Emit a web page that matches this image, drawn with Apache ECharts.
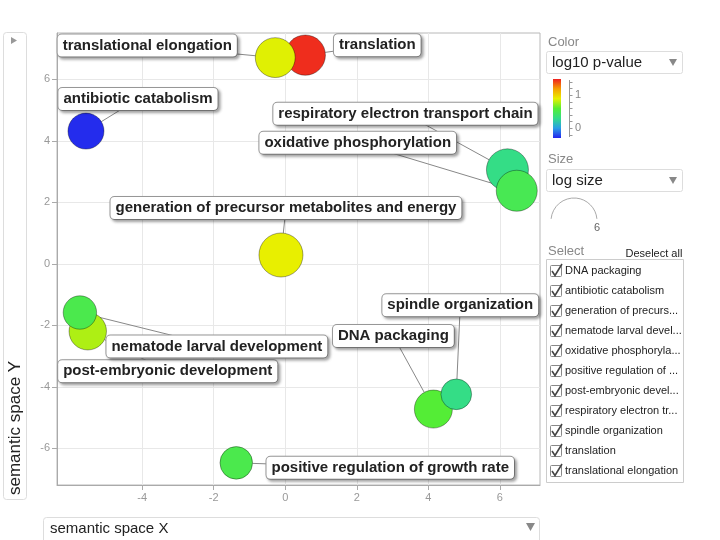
<!DOCTYPE html>
<html><head><meta charset="utf-8">
<script src="https://cdn.jsdelivr.net/npm/echarts@6/dist/echarts.min.js"></script>
<style>html,body{margin:0;padding:0;background:#fff}#c{width:720px;height:540px}</style>
</head><body><div id="c"></div>
<script>
// ---- data ----
const termNames = ['DNA packaging','antibiotic catabolism','generation of precursor metabolites and energy','nematode larval development','oxidative phosphorylation','positive regulation of growth rate','post-embryonic development','respiratory electron transport chain','spindle organization','translation','translational elongation'];
const semanticX = [4.14, -5.57, -0.12, -5.74, 6.47, -1.37, -5.52, 6.21, 4.78, 0.56, -0.28];
const semanticY = [-4.72, 4.32, 0.29, -1.58, 2.38, -6.47, -2.19, 3.06, -4.24, 6.79, 6.71];
const log10PValue = [0.58, -0.28, 0.89, 0.5, 0.48, 0.5, 0.77, 0.3, 0.3, 1.45, 0.87];
const logSize = [4.96, 4.7, 5.74, 4.36, 5.35, 4.25, 4.88, 5.48, 4.0, 5.25, 5.2];
const selectLabels = ['DNA packaging','antibiotic catabolism','generation of precurs...','nematode larval devel...','oxidative phosphoryla...','positive regulation of ...','post-embryonic devel...','respiratory electron tr...','spindle organization','translation','translational elongation'];
const xTicks = [-4, -2, 0, 2, 4, 6];
const yTicks = [-6, -4, -2, 0, 2, 4, 6];
const colorTicks = [1, 0];
const colorMinorTicks = [1.4, 1.2, 1.0, 0.8, 0.6, 0.4, 0.2, 0, -0.2];
const sizeLegendValue = 6;

// ---- style / layout ----
const FONT = '"Liberation Sans", Arial, Helvetica, sans-serif';
const colorRange = ['#2424ee', '#2a9ee6', '#33dd88', '#55ee33', '#e8f000', '#f5a000', '#ee2020'];
const cMin = -0.3, cMax = 1.48;
const pxPerLogSize = 23 / 6; // radius px per log size unit
const labelOffsets = {
  'DNA packaging': [-40, -73],
  'antibiotic catabolism': [52, -32],
  'generation of precursor metabolites and energy': [5, -47],
  'nematode larval development': [137, 34],
  'oxidative phosphorylation': [-159, -48],
  'positive regulation of growth rate': [154, 5],
  'post-embryonic development': [80, 40],
  'respiratory electron transport chain': [-102, -56],
  'spindle organization': [4, -89],
  'translation': [72, -10],
  'translational elongation': [-128, -12]
};

const points = termNames.map((n, i) => ({ name: n, value: [semanticX[i], semanticY[i], log10PValue[i], logSize[i]] }));
points.sort((a, b) => b.value[3] - a.value[3]);

const chart = echarts.init(document.getElementById('c'));

const graphics = [];
// Y title box
graphics.push({ type: 'rect', shape: { x: 3.5, y: 32.5, width: 23, height: 467, r: 3 }, style: { fill: '#fff', stroke: '#ddd', lineWidth: 1 } });
graphics.push({ type: 'polygon', shape: { points: [[11, 37], [11, 44], [17, 40.5]] }, style: { fill: '#999' } });
graphics.push({ type: 'text', x: 15, y: 495, rotation: Math.PI / 2, style: { text: 'semantic space Y', fontSize: 17, fontFamily: FONT, fill: '#222', align: 'left', verticalAlign: 'middle' } });
// X title box
graphics.push({ type: 'rect', shape: { x: 43.5, y: 517.5, width: 496, height: 30, r: 3 }, style: { fill: '#fff', stroke: '#ddd', lineWidth: 1 } });
graphics.push({ type: 'text', x: 50, y: 529, style: { text: 'semantic space X', fontSize: 15, fontFamily: FONT, fill: '#222', align: 'left', verticalAlign: 'middle' } });
graphics.push({ type: 'polygon', shape: { points: [[526, 523], [535, 523], [530.5, 531]] }, style: { fill: '#888' } });

// Right panel: Color
graphics.push({ type: 'text', x: 548, y: 42, style: { text: 'Color', fontSize: 13, fontFamily: FONT, fill: '#888', verticalAlign: 'middle' } });
graphics.push({ type: 'rect', shape: { x: 546.5, y: 51.5, width: 136, height: 22, r: 2 }, style: { fill: '#fff', stroke: '#ddd' } });
graphics.push({ type: 'text', x: 552, y: 63, style: { text: 'log10 p-value', fontSize: 15, fontFamily: FONT, fill: '#222', verticalAlign: 'middle' } });
graphics.push({ type: 'polygon', shape: { points: [[669, 59], [677, 59], [673, 66]] }, style: { fill: '#888' } });
const cbTop = 79, cbH = 59;
const cbY = v => cbTop + (cMax - v) / (cMax - cMin) * cbH;
graphics.push({ type: 'rect', shape: { x: 553, y: cbTop, width: 8, height: cbH }, style: { fill: { type: 'linear', x: 0, y: 0, x2: 0, y2: 1, colorStops: colorRange.slice().reverse().map((c, i, a) => ({ offset: i / (a.length - 1), color: c })) } } });
graphics.push({ type: 'line', shape: { x1: 569.5, y1: cbTop + 1, x2: 569.5, y2: cbTop + cbH - 1 }, style: { stroke: '#999', lineWidth: 1 } });
colorMinorTicks.forEach(v => graphics.push({ type: 'line', shape: { x1: 569.5, y1: Math.round(cbY(v)) + 0.5, x2: 572.5, y2: Math.round(cbY(v)) + 0.5 }, style: { stroke: '#999', lineWidth: 1 } }));
colorTicks.forEach(v => graphics.push({ type: 'text', x: 575, y: cbY(v), style: { text: String(v), fontSize: 11, fontFamily: FONT, fill: '#888', verticalAlign: 'middle' } }));

// Size
graphics.push({ type: 'text', x: 548, y: 159, style: { text: 'Size', fontSize: 13, fontFamily: FONT, fill: '#888', verticalAlign: 'middle' } });
graphics.push({ type: 'rect', shape: { x: 546.5, y: 169.5, width: 136, height: 22, r: 2 }, style: { fill: '#fff', stroke: '#ddd' } });
graphics.push({ type: 'text', x: 552, y: 181, style: { text: 'log size', fontSize: 15, fontFamily: FONT, fill: '#222', verticalAlign: 'middle' } });
graphics.push({ type: 'polygon', shape: { points: [[669, 177], [677, 177], [673, 184]] }, style: { fill: '#888' } });
const arcR = sizeLegendValue * pxPerLogSize;
graphics.push({ type: 'arc', shape: { cx: 574, cy: 198 + arcR, r: arcR, startAngle: Math.PI * 1.03, endAngle: Math.PI * 1.97, clockwise: true }, style: { fill: 'none', stroke: '#aaa', lineWidth: 1 } });
graphics.push({ type: 'text', x: 597, y: 228, style: { text: String(sizeLegendValue), fontSize: 11, fontFamily: FONT, fill: '#666', align: 'center', verticalAlign: 'middle' } });

// Select
graphics.push({ type: 'text', x: 548, y: 251, style: { text: 'Select', fontSize: 13, fontFamily: FONT, fill: '#888', verticalAlign: 'middle' } });
graphics.push({ type: 'text', x: 625.5, y: 254, style: { text: 'Deselect all', fontSize: 11, fontFamily: FONT, fill: '#222', verticalAlign: 'middle' } });
graphics.push({ type: 'line', shape: { x1: 625.5, y1: 260.5, x2: 682, y2: 260.5 }, style: { stroke: '#222', lineWidth: 1 } });
graphics.push({ type: 'rect', shape: { x: 546.5, y: 259.5, width: 137, height: 223 }, style: { fill: '#fff', stroke: '#ccc' } });
selectLabels.forEach((t, i) => {
  const cy = 271 + i * 20;
  graphics.push({ type: 'rect', shape: { x: 550.5, y: cy - 5.5, width: 11, height: 11, r: 1 }, style: { fill: '#fff', stroke: '#888' } });
  graphics.push({ type: 'polyline', shape: { points: [[552, cy], [555, cy + 4.5], [562, cy - 7]] }, style: { stroke: '#444', lineWidth: 1.6, fill: 'none' } });
  graphics.push({ type: 'text', x: 565, y: cy, style: { text: t, fontSize: 11, fontFamily: FONT, fill: '#222', verticalAlign: 'middle' } });
});

const option = {
  backgroundColor: '#fff',
  animation: false,
  textStyle: { fontFamily: FONT },
  grid: { left: 57, top: 33, right: 180, bottom: 55, show: true, borderColor: '#b8b8b8', borderWidth: 1 },
  xAxis: {
    type: 'value', min: -6.38, max: 7.12,
    axisLine: { show: true, onZero: false, lineStyle: { color: '#aaa' } },
    axisTick: { show: true, length: 5, lineStyle: { color: '#aaa' }, customValues: xTicks },
    axisLabel: { color: '#999', fontSize: 11, margin: 7, customValues: xTicks },
    splitLine: { show: true, lineStyle: { color: '#e8e8e8' } }
  },
  yAxis: {
    type: 'value', min: -7.19, max: 7.51,
    axisLine: { show: true, onZero: false, lineStyle: { color: '#aaa' } },
    axisTick: { show: true, length: 5, lineStyle: { color: '#aaa' }, customValues: yTicks },
    axisLabel: { color: '#999', fontSize: 11, margin: 7, customValues: yTicks },
    splitLine: { show: true, lineStyle: { color: '#e8e8e8' } }
  },
  visualMap: { show: false, type: 'continuous', dimension: 2, min: cMin, max: cMax, inRange: { color: colorRange }, seriesIndex: 0 },
  series: [{
    type: 'scatter',
    z: 3,
    data: points,
    symbolSize: v => v[3] * pxPerLogSize * 2,
    itemStyle: { opacity: 1, borderColor: 'rgba(0,0,0,0.35)', borderWidth: 1 },
    emphasis: { disabled: true },
    label: {
      show: true, position: 'inside', formatter: p => p.name,
      fontSize: 15, fontWeight: 'bold', fontFamily: FONT, color: '#222',
      backgroundColor: '#fff', borderColor: '#999', borderWidth: 1, borderRadius: 4,
      padding: [4, 5, 3, 5],
      shadowColor: 'rgba(0,0,0,0.3)', shadowBlur: 3, shadowOffsetX: 2, shadowOffsetY: 2
    },
    labelLayout: p => { const o = labelOffsets[points[p.dataIndex].name]; return { dx: o[0], dy: o[1] }; }
  }, {
    // leader lines from each bubble edge toward its label centre
    type: 'custom',
    z: 1,
    silent: true,
    data: points,
    encode: { x: 0, y: 1 },
    renderItem: (params, api) => {
      const c = api.coord([api.value(0), api.value(1)]);
      const r = api.value(3) * pxPerLogSize;
      const o = labelOffsets[points[params.dataIndex].name];
      const d = Math.hypot(o[0], o[1]) || 1;
      return {
        type: 'line',
        shape: { x1: c[0] + o[0] / d * r, y1: c[1] + o[1] / d * r, x2: c[0] + o[0], y2: c[1] + o[1] },
        style: { stroke: '#888', lineWidth: 1 }
      };
    }
  }],
  graphic: graphics
};
chart.setOption(option);
</script>
</body></html>
